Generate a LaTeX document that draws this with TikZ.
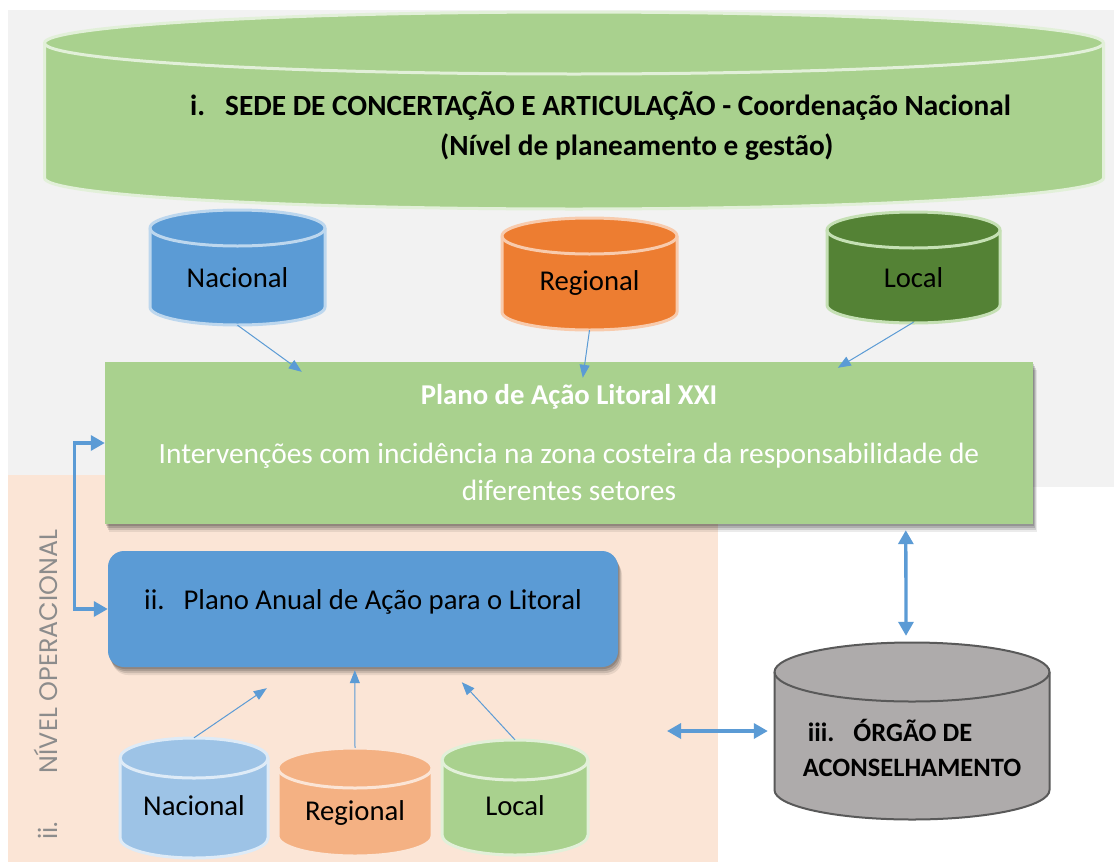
\documentclass[tikz,border=0pt]{standalone}
\usepackage{fontspec}
\setmainfont{Carlito}
\newfontfamily\gothicfont{Poppins}
\usetikzlibrary{arrows.meta,calc,shadows}
\definecolor{bggrey}{HTML}{F2F2F2}
\definecolor{peach}{HTML}{FBE5D6}
\definecolor{greenA}{HTML}{A9D18E}
\definecolor{greenAline}{HTML}{E2F0D9}
\definecolor{blueA}{HTML}{5B9BD5}
\definecolor{blueAline}{HTML}{BDD7EE}
\definecolor{orangeA}{HTML}{ED7D31}
\definecolor{orangeAline}{HTML}{F8CBAD}
\definecolor{dgreen}{HTML}{548235}
\definecolor{dgreenline}{HTML}{C5E0B4}
\definecolor{lblue}{HTML}{9DC3E6}
\definecolor{lblueline}{HTML}{DEEBF7}
\definecolor{lorange}{HTML}{F4B183}
\definecolor{lorangeline}{HTML}{FBE5D6}
\definecolor{lgreen}{HTML}{A9D18E}
\definecolor{lgreenline}{HTML}{E2F0D9}
\definecolor{greyc}{HTML}{AEABAB}
\definecolor{greycline}{HTML}{595959}
\definecolor{arrowblue}{HTML}{5B9BD5}
\definecolor{labelgrey}{HTML}{8C8C8C}
\newcommand\lblfont{\fontsize{28.7}{35}\selectfont}
% cx, ty, by, a, b, fill, line, line width
\newcommand\cylshape[8]{%
  \filldraw[fill=#6, draw=#7, line width=#8] ({#1-#4},#2) -- ({#1-#4},#3)
    arc[start angle=180,end angle=360,x radius=#4pt,y radius=#5pt] -- ({#1+#4},#2)
    arc[start angle=0,end angle=180,x radius=#4pt,y radius=#5pt] -- cycle;
  \draw[draw=#7, line width=#8] ({#1-#4},#2)
    arc[start angle=180,end angle=360,x radius=#4pt,y radius=#5pt];
}
\begin{document}
\begin{tikzpicture}[x=1pt,y=-1pt,
  lbl/.style={inner sep=0pt, font=\lblfont, text=black},
  thinarrow/.style={draw=arrowblue, line width=1pt, -{Triangle[length=13pt,width=10pt]}},
  thickarrow/.style={draw=arrowblue, line width=3.3pt,
    {Triangle[length=14pt,width=15pt]}-{Triangle[length=14pt,width=15pt]}},
  boxshadow/.style={
    general shadow={shadow xshift=4pt, shadow yshift=-8pt, fill=black, opacity=0.08},
    general shadow={shadow xshift=3pt, shadow yshift=-6pt, fill=black, opacity=0.12},
    general shadow={shadow xshift=2pt, shadow yshift=-4pt, fill=black, opacity=0.15},
    general shadow={shadow xshift=1pt, shadow yshift=-2pt, fill=black, opacity=0.15}}
]
\useasboundingbox (0,0) rectangle (1114,865);
\fill[white] (0,0) rectangle (1114,865);
\fill[bggrey] (8,10) rectangle (1114,487);
\fill[peach] (8,475) rectangle (718,862);

% big cylinder
\cylshape{574}{43}{178}{529.5}{31}{greenA}{greenAline}{3pt}
\node[inner sep=0pt, anchor=west, align=left, font=\bfseries\fontsize{29.3}{40}\selectfont] (sede) at (190,126)
  {i.\hspace{20pt}SEDE DE CONCERTAÇÃO E ARTICULAÇÃO - Coordenação Nacional\\
   \hspace*{250pt}(Nível de planeamento e gestão)};

% top small cylinders
\cylshape{237.5}{228}{307}{87.5}{18}{blueA}{blueAline}{3pt}
\cylshape{589.5}{236}{312}{87.5}{18}{orangeA}{orangeAline}{3pt}
\cylshape{913.5}{230}{305}{86.5}{18}{dgreen}{dgreenline}{3pt}
\node[lbl, minimum height=94pt] (nacA) at (237.5,278) {Nacional};
\node[lbl, minimum height=94pt] (regA) at (589.5,283) {Regional};
\node[lbl, minimum height=88pt] (locA) at (913.5,278) {Local};

% main green box
\node[boxshadow, fill=greenA, minimum width=928pt, minimum height=162pt, inner sep=0pt,
  text=white, align=center, font=\fontsize{29.4}{37}\selectfont] (plano) at (569,443)
  {{\fontsize{28.7}{37}\selectfont\textbf{Plano de Ação Litoral XXI}}\\[22pt]
   Intervenções com incidência na zona costeira da responsabilidade de\\
   diferentes setores};

% blue rounded box
\node[boxshadow, fill=blueA, rounded corners=16pt, minimum width=510pt, minimum height=116pt,
  inner sep=0pt, text depth=18pt, font=\lblfont] (anual) at (363,609)
  {ii.\hspace{19pt}Plano Anual de Ação para o Litoral};

% bottom cylinders
\cylshape{194}{758}{838}{74}{20}{lblue}{lblueline}{3pt}
\cylshape{355}{768}{836}{77}{20}{lorange}{lorangeline}{3pt}
\cylshape{515}{760}{835}{73}{20}{lgreen}{lgreenline}{3pt}
\node[lbl, minimum height=136pt] (nacB) at (194,806) {Nacional};
\node[lbl, minimum height=130pt] (regB) at (355,813) {Regional};
\node[lbl, minimum height=132pt] (locB) at (515,806) {Local};

% grey cylinder
\cylshape{912}{672}{790}{137.5}{29.5}{greyc}{greycline}{2pt}
\node[inner sep=0pt, minimum width=275pt, minimum height=209pt, align=left,
  font=\bfseries\fontsize{26.5}{35}\selectfont] (orgao) at (912,747.5)
  {\hspace*{5pt}iii.\hspace{19pt}ÓRGÃO DE\\ACONSELHAMENTO};

% vertical label
\node[rotate=90, anchor=base west, inner sep=0pt, text=labelgrey,
  font=\gothicfont\fontsize{25.3}{29}\selectfont] (nivel) at (57,840)
  {ii.\hspace{49pt}NÍVEL OPERACIONAL};

% thin arrows
\draw[thinarrow] (nacA.south) -- ($(plano.north west)+(197,10)$);
\draw[thinarrow] (regA.south) -- ($(plano.north west)+(478,16)$);
\draw[thinarrow] (locA.south) -- ($(plano.north west)+(733,6)$);
\draw[thinarrow] (nacB.north) -- ($(anual.south west)+(159,21)$);
\draw[thinarrow] (regB.north) -- ($(anual.south west)+(247,3)$);
\draw[thinarrow] (locB.north) -- ($(anual.south west)+(354,15)$);

% thick arrows
\draw[thickarrow] (plano.west) -- ++(-30,0) |- (anual.west);
\draw[thickarrow] ($(plano.south west)+(801,6)$) -- ($(orgao.north)+(-6,-7)$);
\coordinate (hleft) at (667,731);
\draw[thickarrow] (hleft) -- ($(orgao.west)+(-6.5,-16.5)$);
\end{tikzpicture}
\end{document}
